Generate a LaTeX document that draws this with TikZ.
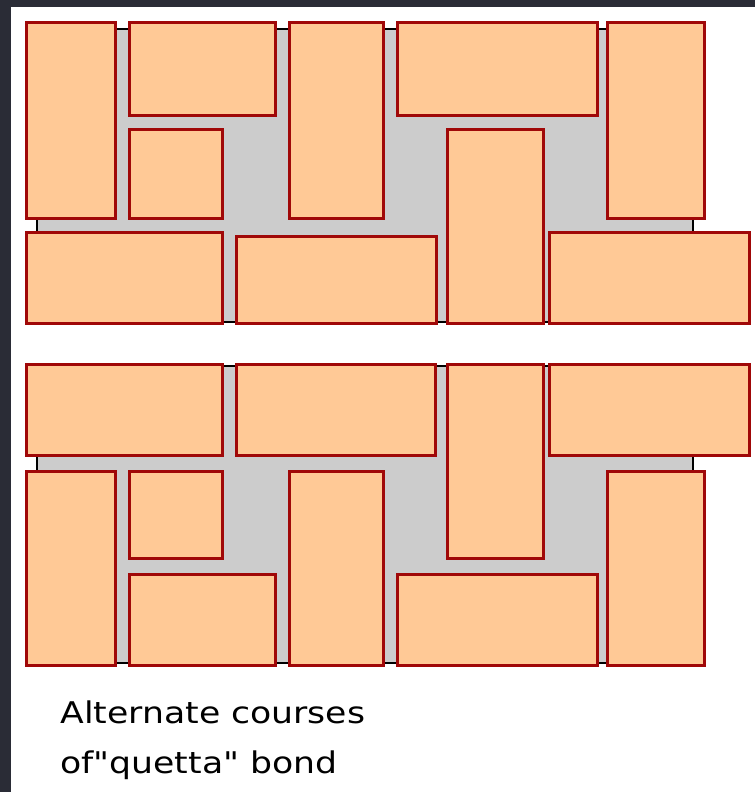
\documentclass[tikz,border=0pt]{standalone}
\usepackage{fontspec}
\usepackage{xcolor}
\usepackage{tikz}
\newfontfamily\capfont[FakeStretch=1.16]{DejaVu Sans}
\definecolor{brickfill}{RGB}{255,201,150}
\definecolor{brickedge}{RGB}{160,8,8}
\definecolor{mortar}{RGB}{204,204,204}
\definecolor{slate}{RGB}{42,44,54}
\tikzset{
  brick/.style={fill=brickfill, draw=brickedge, line width=1.6pt},
  joint/.style={fill=mortar, draw=black, line width=0.9pt},
  caption/.style={font=\capfont\fontsize{17}{28.3}\selectfont, align=left, inner sep=0pt}
}

\begin{document}
\begin{tikzpicture}[x=0.02cm, y=-0.02cm]
        \useasboundingbox (0,0) rectangle (755,792);
        \fill[slate] (0,0) rectangle (755,792);
        \fill[white] (11,7) rectangle (755,792);

        % first course
        \draw[joint] (37,29) rectangle (693,322);
        \draw[brick] (26.5,22.5) rectangle (115.5,218.5);
        \draw[brick] (129.5,22.5) rectangle (275.5,115.5);
        \draw[brick] (129.5,129.5) rectangle (222.5,218.5);
        \draw[brick] (289.5,22.5) rectangle (383.5,218.5);
        \draw[brick] (397.5,22.5) rectangle (597.5,115.5);
        \draw[brick] (607.5,22.5) rectangle (704.5,218.5);
        \draw[brick] (447.5,129.5) rectangle (543.5,323.5);
        \draw[brick] (549.5,232.5) rectangle (749.5,323.5);
        \draw[brick] (26.5,232.5) rectangle (222.5,323.5);
        \draw[brick] (236.5,236.5) rectangle (436.5,323.5);

        % second course
        \draw[joint] (37,366) rectangle (693,663);
        \draw[brick] (26.5,364.5) rectangle (222.5,455.5);
        \draw[brick] (236.5,364.5) rectangle (435.5,455.5);
        \draw[brick] (447.5,364.5) rectangle (543.5,558.5);
        \draw[brick] (549.5,364.5) rectangle (749.5,455.5);
        \draw[brick] (26.5,471.5) rectangle (115.5,665.5);
        \draw[brick] (129.5,471.5) rectangle (222.5,558.5);
        \draw[brick] (129.5,574.5) rectangle (275.5,665.5);
        \draw[brick] (289.5,471.5) rectangle (383.5,665.5);
        \draw[brick] (397.5,574.5) rectangle (597.5,665.5);
        \draw[brick] (607.5,471.5) rectangle (704.5,665.5);

        \node[caption, anchor=base west] (bondcaption) at (60,773)
          {Alternate courses\\of"quetta" bond};
      \end{tikzpicture}
\end{document}
